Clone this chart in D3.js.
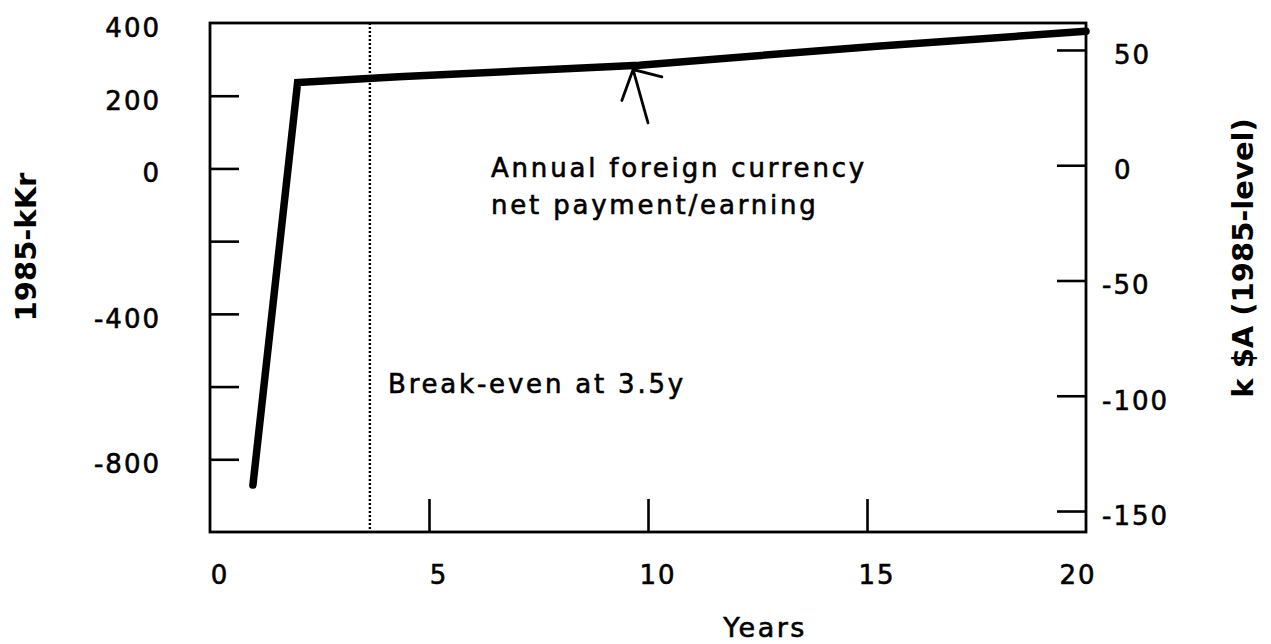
<!DOCTYPE html>
<html>
<head>
<meta charset="utf-8">
<script src="https://cdn.jsdelivr.net/npm/d3@7"></script>
<style>
  html, body { margin: 0; padding: 0; background: #fff; }
  svg { display: block; }
  text { font-family: "DejaVu Sans", sans-serif; fill: #000; }
  text.reg { stroke: #000; stroke-width: 0.6px; }
</style>
</head>
<body>
<svg id="chart" width="1271" height="644"></svg>
<script>
// ---- data ----
const years = [0.98, 2.0, 4.3, 9.8, 15.3, 20];
const netKKr = [-871, 236, 252, 284, 337, 377];
const xTickLabels = [0, 5, 10, 15, 20];
const xTickMarks = [5, 10, 15];
const leftTickMarks = [200, 0, -200, -400, -600, -800];
const leftTickLabels = [400, 200, 0, -400, -800];
const rightTicks = [50, 0, -50, -100, -150];
const breakEvenYear = 3.65;
const arrowTip = [9.66, 272];
const arrowTail = [10.0, 125];
const annotationLines = ["Annual foreign currency", "net payment/earning"];
const breakEvenText = "Break-even at 3.5y";

// ---- layout ----
const plot = { left: 210, right: 1086, top: 23, bottom: 532 };
const svg = d3.select("#chart");

const x = d3.scaleLinear().domain([0, 20]).range([plot.left, plot.right]);
const yL = d3.scaleLinear().domain([-1000, 400]).range([plot.bottom, plot.top]);
const yR = d3.scaleLinear().domain([-159.1, 61.7]).range([plot.bottom, plot.top]);

// frame
svg.append("rect")
  .attr("x", plot.left).attr("y", plot.top)
  .attr("width", plot.right - plot.left).attr("height", plot.bottom - plot.top)
  .attr("fill", "none").attr("stroke", "#000").attr("stroke-width", 2.8);

// left ticks (inward)
const gL = svg.append("g").attr("transform", `translate(${plot.left},0)`)
  .call(d3.axisLeft(yL).tickValues(leftTickMarks).tickSizeInner(-29).tickSizeOuter(0).tickFormat(""));
gL.select(".domain").remove();
gL.selectAll(".tick line").attr("stroke", "#000").attr("stroke-width", 2.6);

// right ticks (inward)
const gR = svg.append("g").attr("transform", `translate(${plot.right},0)`)
  .call(d3.axisRight(yR).tickValues(rightTicks).tickSizeInner(-29).tickSizeOuter(0).tickFormat(""));
gR.select(".domain").remove();
gR.selectAll(".tick line").attr("stroke", "#000").attr("stroke-width", 2.6);

// bottom ticks (inward)
const gB = svg.append("g").attr("transform", `translate(0,${plot.bottom})`)
  .call(d3.axisBottom(x).tickValues(xTickMarks).tickSizeInner(-33).tickSizeOuter(0).tickFormat(""));
gB.select(".domain").remove();
gB.selectAll(".tick line").attr("stroke", "#000").attr("stroke-width", 2.6);

// left tick labels
svg.append("g").selectAll("text").data(leftTickLabels).join("text")
  .attr("class", "reg")
  .attr("x", 161).attr("y", d => yL(d) + 14)
  .attr("text-anchor", "end")
  .style("font-size", "26px").style("letter-spacing", "2px")
  .text(d => String(d));

// right tick labels
svg.append("g").selectAll("text").data(rightTicks).join("text")
  .attr("class", "reg")
  .attr("x", d => d < 0 ? 1102 : 1114).attr("y", d => yR(d) + 14)
  .attr("text-anchor", "start")
  .style("font-size", "26px").style("letter-spacing", "2px")
  .text(d => String(d));

// bottom tick labels
svg.append("g").selectAll("text").data(xTickLabels).join("text")
  .attr("class", "reg")
  .attr("x", d => x(d) + (d === 20 ? -8 : 10)).attr("y", 584)
  .attr("text-anchor", "middle")
  .style("font-size", "26px").style("letter-spacing", "2px")
  .text(d => String(d));

// axis titles
svg.append("text")
  .attr("transform", `translate(36,247) rotate(-90)`)
  .attr("text-anchor", "middle")
  .style("font-size", "29px").style("font-weight", "bold")
  .text("1985-kKr");

svg.append("text")
  .attr("transform", `translate(1253,258) rotate(-90)`)
  .attr("text-anchor", "middle")
  .style("font-size", "29px").style("font-weight", "bold")
  .text("k $A (1985-level)");

svg.append("text")
  .attr("class", "reg")
  .attr("x", 765).attr("y", 637)
  .attr("text-anchor", "middle")
  .style("font-size", "27px").style("letter-spacing", "2.5px")
  .text("Years");

// break-even dotted line
svg.append("line")
  .attr("x1", x(breakEvenYear)).attr("x2", x(breakEvenYear))
  .attr("y1", plot.top).attr("y2", plot.bottom)
  .attr("stroke", "#000").attr("stroke-width", 2.4)
  .attr("stroke-dasharray", "2,2");

// main series line
const pts = years.map((yr, i) => [yr, netKKr[i]]);
svg.append("path")
  .datum(pts)
  .attr("d", d3.line().x(d => x(d[0])).y(d => yL(d[1])))
  .attr("fill", "none").attr("stroke", "#000").attr("stroke-width", 7.5)
  .attr("stroke-linecap", "round").attr("stroke-linejoin", "miter");

// annotation arrow
const tip = [x(arrowTip[0]), yL(arrowTip[1])];
const tail = [x(arrowTail[0]), yL(arrowTail[1])];
const ang = Math.atan2(tail[1] - tip[1], tail[0] - tip[0]);
const headLen = 33;
const h1 = [tip[0] + headLen * Math.cos(ang + 0.62), tip[1] + headLen * Math.sin(ang + 0.62)];
const h2 = [tip[0] + headLen * 0.9 * Math.cos(ang - 1.05), tip[1] + headLen * 0.9 * Math.sin(ang - 1.05)];
svg.append("path")
  .attr("d", `M${tail[0]},${tail[1]}L${tip[0]},${tip[1]}M${h1[0]},${h1[1]}L${tip[0]},${tip[1]}L${h2[0]},${h2[1]}`)
  .attr("fill", "none").attr("stroke", "#000").attr("stroke-width", 2.8).attr("stroke-linecap", "round");

// annotation text
svg.append("g").selectAll("text").data(annotationLines).join("text")
  .attr("class", "reg")
  .attr("x", 491).attr("y", (d, i) => 177 + i * 37)
  .style("font-size", "26px").style("letter-spacing", "2.8px")
  .text(d => d);

svg.append("text")
  .attr("class", "reg")
  .attr("x", 388).attr("y", 393)
  .style("font-size", "26px").style("letter-spacing", "2.8px")
  .text(breakEvenText);
</script>
</body>
</html>
